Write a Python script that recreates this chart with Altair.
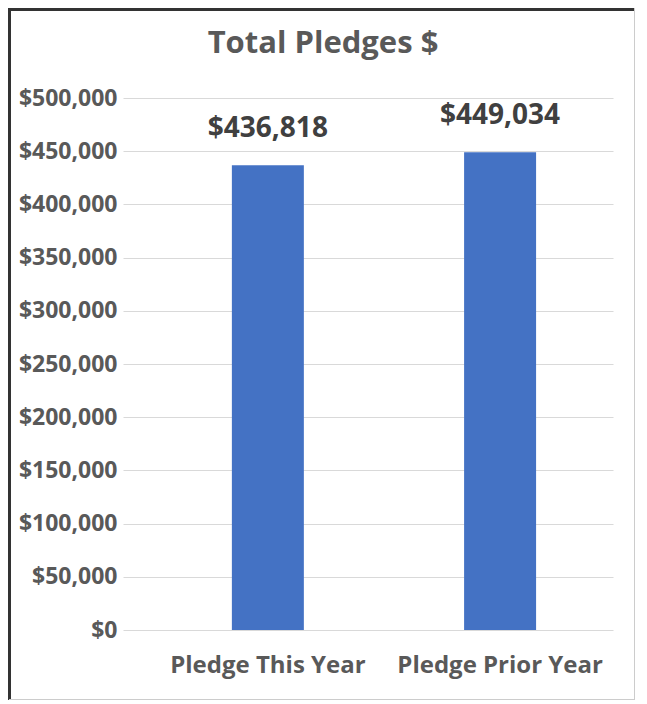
import altair as alt
import pandas as pd

categories = ["Pledge This Year", "Pledge Prior Year"]
values = [436818, 449034]
labels = ["$436,818", "$449,034"]
title_text = ["Total Pledges $"]

df = pd.DataFrame({"cat": categories, "val": values, "lab": labels})

FONT = "Open Sans"
W, H = 490, 532

base = alt.Chart(df)

bars = base.mark_bar(color="#4472C4").encode(
    x=alt.X("cat:N", sort=categories, title=None,
            scale=alt.Scale(paddingInner=0.69, paddingOuter=0.40, align=0.586),
            axis=alt.Axis(labelAngle=0, labelFont=FONT, labelFontSize=24, labelFontWeight="bold",
                          labelColor="#595959", domain=False, ticks=False, labelPadding=23,
                          labelLimit=0)),
    y=alt.Y("val:Q", title=None,
            scale=alt.Scale(domain=[0, 500000], nice=False),
            axis=alt.Axis(values=list(range(0, 500001, 50000)), format="$,.0f",
                          labelFont=FONT, labelFontSize=23, labelFontWeight="bold",
                          labelColor="#595959", domain=False, ticks=False, labelPadding=6,
                          gridColor="#d9d9d9", gridWidth=1.2)),
)

text = base.mark_text(font=FONT, fontSize=28, fontWeight="bold", color="#404040",
                      baseline="alphabetic", dy=-28).encode(
    x=alt.X("cat:N", sort=categories),
    y="val:Q",
    text="lab:N",
)

title = alt.Chart(pd.DataFrame({"t": title_text})).mark_text(
    font=FONT, fontSize=31, fontWeight="bold", color="#595959", baseline="middle"
).encode(x=alt.value(200), y=alt.value(-54), text="t:N")

border_top = base.mark_rule(color="#333333", strokeWidth=3).encode(
    x=alt.value(-114), x2=alt.value(512), y=alt.value(-88.5))
border_left = base.mark_rule(color="#333333", strokeWidth=3).encode(
    x=alt.value(-113.5), y=alt.value(-90), y2=alt.value(602))
border_right = base.mark_rule(color="#cccccc", strokeWidth=1).encode(
    x=alt.value(511.5), y=alt.value(-90), y2=alt.value(602))
border_bottom = base.mark_rule(color="#cccccc", strokeWidth=1).encode(
    x=alt.value(-114), x2=alt.value(512), y=alt.value(601.5))

chart = alt.layer(bars, text, title, border_top, border_left, border_right, border_bottom).properties(
    width=W, height=H,
    autosize=alt.AutoSizeParams(type="none"),
    padding={"left": 115, "top": 90, "right": 24, "bottom": 70},
).configure_view(stroke=None)

chart.save("out.html", embed_options={"renderer": "svg", "actions": False})
